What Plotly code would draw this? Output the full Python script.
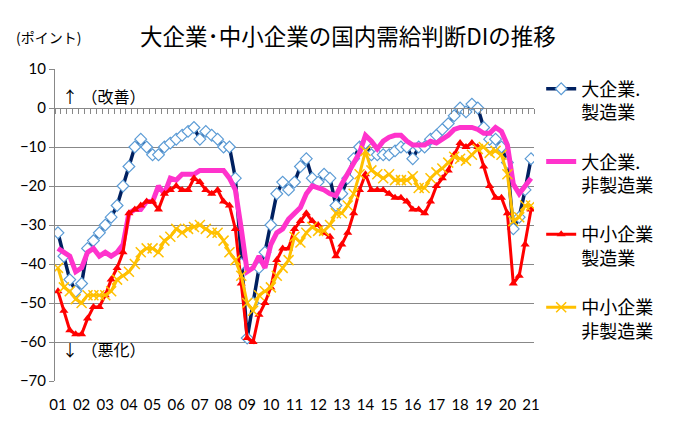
import plotly.graph_objects as go

years = ["01","02","03","04","05","06","07","08","09","10","11","12","13","14","15","16","17","18","19","20","21"]

large_mfg = [-32,-38,-44,-47,-45,-36,-34,-32,-30,-28,-25,-20,-15,-10,-8,-10,
             -12,-12,-10,-9,-8,-7,-6,-5,-8,-6,-7,-8,-10,-10,-18,-40,
             -59,-50,-41,-37,-30,-22,-19,-21,-19,-15,-13,-18,-19,-17,-18,-25,
             -22,-18,-13,-10,-9,-12,-12,-12,-12,-11,-10,-10,-13,-10,-10,-8,
             -7,-5.5,-4,-2,0,-1,1,0,-5,-8,-8,-10,-14,-31,-28,-21,-13]
large_nonmfg = [-36,-37,-38,-42,-41,-37,-36,-38,-37,-38,-37,-35,-27,-26,-26,-24,
                -24,-20,-22,-18,-18.5,-17,-17,-17,-16,-16,-16,-16,-16,-18,-21,-31,
                -42,-41,-38,-41,-35,-32,-31,-28.5,-27,-25.5,-22,-20,-20.5,-21,-22,-22.5,
                -19.5,-17,-14,-11.5,-7,-8.5,-10.5,-8.5,-7.5,-7,-7,-8.5,-9.5,-9.5,-9.5,-8.5,
                -9,-8,-7,-5.5,-5,-5,-5,-5.5,-6.5,-6.5,-5,-6,-9.5,-19.5,-22,-20,-18]
small_mfg = [-47,-52,-57,-58,-58,-54,-51,-51,-48,-44,-41,-37,-27,-26,-25,-24,
             -24,-26,-22,-21,-20,-21,-21,-18,-19,-21,-22,-21,-24,-25,-31,-45,
             -59,-60,-53,-50,-46,-39,-36,-36,-31,-29,-27,-29,-30,-32,-33,-38,
             -35,-32,-27,-21,-17,-21,-21,-21,-22,-23,-23,-24,-26,-26,-27,-24,
             -20,-18,-16,-12,-9,-10,-9,-10,-15,-20,-23,-23,-27,-45,-43,-35,-26]
small_nonmfg = [-41,-46,-47,-49,-50,-48,-48,-48,-48,-47,-44,-43,-42,-40,-37,-36,
                -36,-37,-34,-33,-31,-32,-31,-30.5,-30,-31,-32,-32,-34,-37,-39,-43,
                -50,-52,-48,-47,-46,-43,-41,-39,-33,-34.5,-32,-30.5,-31.5,-31.5,-30,-27,
                -27,-25,-22,-17,-11,-16,-17,-18,-17,-18.5,-18.5,-18.5,-17.5,-20.5,-20.5,-18,
                -16.5,-15.5,-14,-12.5,-13,-13.5,-12,-10.5,-10,-11.5,-11,-12,-17,-29,-28,-25,-25]

names = ["大企業.<br>製造業", "大企業.<br>非製造業", "中小企業<br>製造業", "中小企業<br>非製造業"]

idx = list(range(len(large_mfg)))
GRID = "#888888"
JP = "Noto Sans CJK JP"
NUM = "Lato"

fig = go.Figure()
fig.add_trace(go.Scatter(x=idx, y=large_mfg, name=names[0], mode="lines+markers", legendgroup="a",
                         line=dict(color="#002060", width=3.5),
                         marker=dict(symbol="diamond", size=9, color="white",
                                     line=dict(color="#5B9BD5", width=1.2))))
fig.add_trace(go.Scatter(x=idx, y=large_nonmfg, name=names[1], mode="lines", legendgroup="b",
                         line=dict(color="#FF33CC", width=5)))
fig.add_trace(go.Scatter(x=idx, y=small_mfg, name=names[2], mode="lines+markers", legendgroup="c",
                         line=dict(color="#FF0000", width=3),
                         marker=dict(symbol="triangle-up", size=8, color="#FF0000")))
fig.add_trace(go.Scatter(x=idx, y=small_nonmfg, name=names[3], mode="lines+markers", legendgroup="d",
                         line=dict(color="#FFC000", width=3),
                         marker=dict(symbol="x-thin", size=10, color="#FFC000",
                                     line=dict(color="#FFC000", width=1.5))))
# helper trace for the zero-line axis with quarter ticks
fig.add_trace(go.Scatter(x=[-0.5, len(idx) - 0.5], y=[None, None], xaxis="x2",
                         showlegend=False, hoverinfo="skip", mode="lines"))

n = len(idx)
fig.update_layout(
    width=675, height=433,
    margin=dict(l=55, r=141, t=69, b=52),
    paper_bgcolor="white", plot_bgcolor="white",
    xaxis=dict(range=[-0.5, n - 0.5], tickvals=list(range(0, n, 4)), ticktext=years,
               showgrid=False, zeroline=False, showline=False,
               ticks="outside", ticklen=10, tickcolor="rgba(0,0,0,0)",
               tickfont=dict(family=NUM, size=15, color="black")),
    xaxis2=dict(range=[-0.5, n - 0.5], overlaying="x", anchor="free", position=70/80,
                side="bottom", tickvals=[i - 0.5 for i in range(n + 1)],
                ticks="outside", ticklen=5, tickcolor=GRID, tickwidth=1,
                showticklabels=False, showgrid=False, zeroline=False,
                showline=True, linecolor=GRID, linewidth=1),
    yaxis=dict(range=[-70, 10], tickvals=list(range(-70, 11, 10)),
               showgrid=True, gridcolor=GRID, gridwidth=1, zeroline=False,
               showline=True, linecolor=GRID, linewidth=1,
               ticks="outside", ticklen=5, tickcolor=GRID,
               tickfont=dict(family=NUM, size=15, color="black")),
    legend=dict(x=1.015, y=0.995, xanchor="left", yanchor="top", valign="top",
                tracegroupgap=23, maxheight=420, itemwidth=30,
                font=dict(family=JP, size=18, color="black"),
                bgcolor="rgba(0,0,0,0)"),
    showlegend=True,
    annotations=[
        dict(text="大企業･中小企業の国内需給判断DIの推移", xref="paper", yref="paper",
             x=0.612, y=1.11, xanchor="center", yanchor="middle", showarrow=False,
             font=dict(family=JP, size=22.5, color="black")),
        dict(text="(ポイント)", xref="paper", yref="paper", x=-0.085, y=1.103,
             xanchor="left", yanchor="middle", showarrow=False,
             font=dict(family=JP, size=14, color="black")),
        dict(text="↑ （改善）", xref="paper", yref="paper", x=0.01, y=0.914,
             xanchor="left", yanchor="middle", showarrow=False,
             font=dict(family=JP, size=16, color="black")),
        dict(text="↓ （悪化）", xref="paper", yref="paper", x=0.01, y=0.104,
             xanchor="left", yanchor="middle", showarrow=False,
             font=dict(family=JP, size=16, color="black")),
    ],
)

fig.write_html("out.html")
